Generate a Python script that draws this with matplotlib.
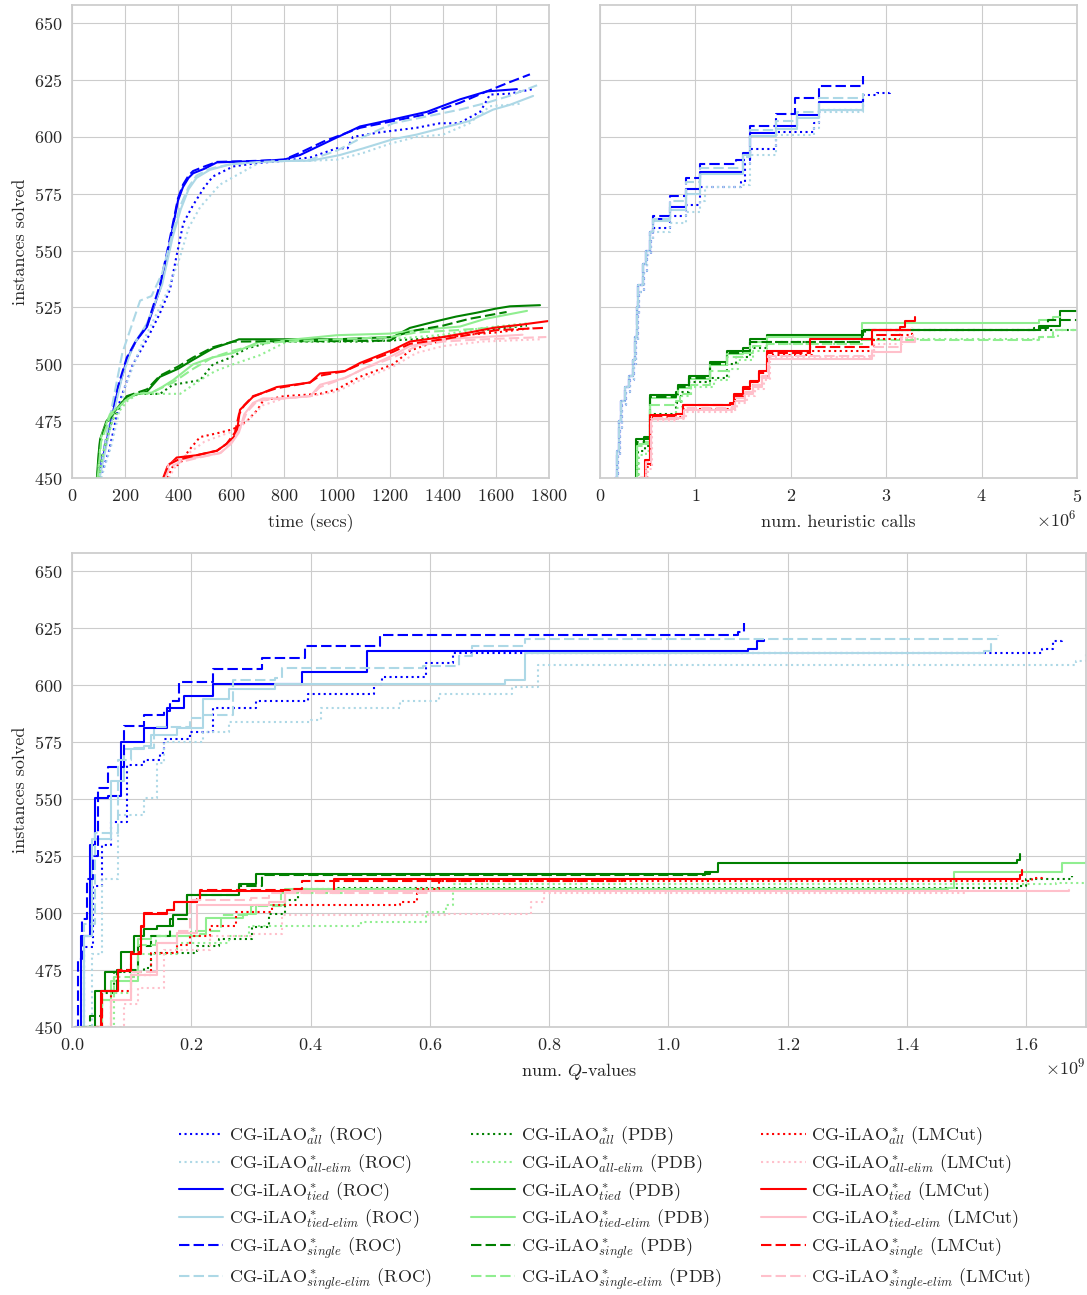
import matplotlib
matplotlib.use('Agg')
import matplotlib.pyplot as plt
import seaborn as sns

sns.set_style('whitegrid')
plt.rcParams['font.family'] = ['cmr10']
plt.rcParams['mathtext.fontset'] = 'cm'
plt.rcParams['axes.formatter.use_mathtext'] = True

HEURISTICS = ['ROC', 'PDB', 'LMCut']
VARIANTS = ['all', 'all-elim', 'tied', 'tied-elim', 'single', 'single-elim']
Y_TICKS = [450, 475, 500, 525, 550, 575, 600, 625, 650]

# ---- time (secs) ----
time_roc_all_x = [106, 140, 181, 230, 283, 330, 370, 395, 420, 457, 500, 532, 608, 700, 800, 900, 1000, 1040, 1060, 1162, 1300, 1389, 1460, 1540, 1560, 1577, 1650, 1740]
time_roc_all_y = [450, 462, 484, 500, 511, 522, 533, 548, 562, 570, 578, 582.6, 587, 588.5, 589.5, 591, 595, 595, 600, 602, 604, 606, 606, 611, 615, 618.6, 619, 621]
time_roc_all_elim_x = [110, 150, 200, 260, 310, 360, 407, 440, 483, 558, 619, 709, 800, 900, 1000, 1100, 1200, 1300, 1400, 1500, 1577, 1640, 1702]
time_roc_all_elim_y = [450, 465, 490, 508, 520, 532, 547, 560, 569, 579, 583, 588.8, 589.4, 589.5, 590, 593, 597, 600, 601, 606, 613.5, 614, 614.7]
time_roc_tied_x = [100, 130, 170, 207, 240, 283, 332, 360, 381, 400, 419, 440, 457, 500, 547, 709, 800, 860, 950, 1087, 1212, 1339, 1464, 1565, 1679]
time_roc_tied_y = [450, 466, 487, 502, 510, 516.5, 533, 548, 560.6, 572, 578, 582, 584, 586, 588.8, 589.4, 590, 592, 597, 604.6, 607.7, 611, 616.5, 620, 621]
time_roc_tied_elim_x = [104, 140, 190, 230, 283, 340, 380, 410, 440, 470, 520, 600, 709, 800, 900, 1010, 1100, 1212, 1300, 1400, 1500, 1589, 1650, 1740]
time_roc_tied_elim_y = [450, 470, 495, 508, 518, 535, 556, 568, 577, 582, 585.5, 588, 589, 589.4, 589.5, 592, 595, 599, 601, 604, 607, 612, 614, 618]
time_roc_single_x = [98, 130, 170, 207, 240, 283, 332, 360, 381, 400, 419, 440, 457, 500, 547, 709, 800, 860, 950, 1087, 1212, 1339, 1464, 1565, 1650, 1728]
time_roc_single_y = [450, 468, 489, 503, 510, 517, 535, 550, 562, 573, 579, 583, 585, 587, 589, 589.5, 590, 593, 598, 604, 607, 610, 615, 620, 624, 627.5]
time_roc_single_elim_x = [102, 140, 190, 257, 300, 340, 380, 410, 440, 470, 520, 600, 709, 800, 900, 1000, 1100, 1212, 1339, 1464, 1565, 1650, 1755]
time_roc_single_elim_y = [450, 475, 505, 528, 530, 540, 558, 570, 578, 583, 586, 588, 589, 589.4, 590, 594, 600, 606, 609, 612, 615, 618, 622.7]

time_pdb_all_x = [100, 115, 150, 200, 250, 332, 381, 483, 532, 600, 660, 760, 900, 1100, 1300, 1400, 1550, 1717]
time_pdb_all_y = [450, 460, 475, 485, 487, 487, 491, 493, 500, 503, 507, 510, 510, 510, 511, 512, 515, 517]
time_pdb_all_elim_x = [102, 120, 155, 210, 250, 300, 408, 483, 540, 608, 709, 811, 1000, 1200, 1400, 1550, 1717]
time_pdb_all_elim_y = [450, 462, 476, 484, 487, 487, 487, 493, 497, 500, 504, 510, 510, 511, 513, 516, 518]
time_pdb_tied_x = [94, 100, 106, 130, 155, 207, 283, 332, 400, 457, 532, 608, 630, 800, 1000, 1212, 1275, 1377, 1450, 1528, 1600, 1653, 1766]
time_pdb_tied_y = [450, 460, 467, 475, 478.6, 485.7, 488, 494.5, 498, 502, 507, 510, 511, 511, 511, 512, 516, 519, 521, 522.7, 524.5, 525.5, 526]
time_pdb_tied_elim_x = [96, 110, 143, 200, 241, 300, 340, 381, 457, 530, 608, 709, 800, 1000, 1200, 1300, 1464, 1560, 1717]
time_pdb_tied_elim_y = [450, 468, 478, 484, 487, 487.5, 490, 493, 500, 503, 505, 510, 510.5, 512.8, 513.5, 515, 516.6, 520, 523.5]
time_pdb_single_x = [96, 106, 130, 155, 207, 283, 332, 400, 457, 532, 608, 640, 800, 1000, 1200, 1237, 1300, 1400, 1500, 1640]
time_pdb_single_y = [450, 466, 474, 478, 486, 489, 495, 499, 503, 507.5, 510, 510, 510.2, 510.2, 510.4, 513, 515, 517, 520, 523]
time_pdb_single_elim_x = [97, 110, 143, 200, 241, 300, 381, 457, 530, 608, 709, 800, 1000, 1200, 1300, 1450, 1690]
time_pdb_single_elim_y = [450, 466, 477, 484, 487, 487.5, 492, 498, 503, 506, 509, 510, 511, 512, 514, 515, 517]

time_lmcut_all_x = [360, 380, 406, 440, 483, 560, 608, 660, 700, 721, 800, 936, 1000, 1087, 1212, 1275, 1339, 1464, 1600, 1740]
time_lmcut_all_y = [450, 455, 456, 462, 468, 470, 471.5, 475, 480, 484, 486, 487, 489, 494.5, 500, 506, 508.6, 512.7, 514, 516]
time_lmcut_all_elim_x = [365, 390, 430, 500, 570, 620, 670, 720, 800, 900, 1000, 1087, 1212, 1300, 1400, 1550, 1770]
time_lmcut_all_elim_y = [450, 455, 460, 466, 469, 471, 476, 482, 485, 486, 488, 493, 499, 505, 508, 510, 511]
time_lmcut_tied_x = [344, 360, 395, 470, 547, 583, 610, 623, 634, 683, 773, 898, 936, 1030, 1087, 1212, 1275, 1400, 1500, 1589, 1700, 1796]
time_lmcut_tied_y = [450, 455, 459, 460, 462, 465, 468, 471, 480, 485.7, 490, 492, 496, 497, 500.6, 506.4, 510, 512, 514, 516, 517.5, 519]
time_lmcut_tied_elim_x = [350, 365, 400, 470, 560, 600, 630, 650, 683, 720, 800, 900, 936, 1030, 1100, 1212, 1275, 1400, 1550, 1700]
time_lmcut_tied_elim_y = [450, 456, 458, 459, 461, 465, 470, 478, 483, 485, 485, 486, 491, 494, 498, 504, 508, 511, 512, 513]
time_lmcut_single_x = [348, 365, 400, 470, 547, 583, 615, 630, 650, 683, 773, 898, 936, 1030, 1087, 1212, 1275, 1400, 1500, 1600, 1778]
time_lmcut_single_y = [450, 456, 458, 460, 462, 465, 470, 478, 482, 486, 489.5, 492, 495, 497, 500, 505.5, 509, 511, 513, 515, 516]
time_lmcut_single_elim_x = [352, 370, 410, 480, 560, 605, 635, 660, 700, 800, 900, 936, 1030, 1100, 1212, 1300, 1400, 1550, 1790]
time_lmcut_single_elim_y = [450, 455, 457, 459, 461, 466, 472, 479, 484, 485, 486, 490, 494, 498, 503, 508, 510, 511, 512]

# ---- heuristic calls (millions) ----
calls_roc_all_x = [0.165, 0.19, 0.21, 0.23, 0.27, 0.31, 0.36, 0.38, 0.395, 0.41, 0.46, 0.49, 0.53, 0.56, 0.73, 0.90, 1.05, 1.48, 1.52, 1.57, 1.85, 2.24, 2.30, 2.76, 2.90, 3.04]
calls_roc_all_y = [450, 460, 472, 482, 488, 493, 500, 510, 522, 532, 541, 548, 555, 560, 565, 570, 578, 580, 588, 594.6, 602, 606, 612, 618.6, 619.5, 620.5]
calls_roc_all_elim_x = [0.165, 0.19, 0.21, 0.23, 0.27, 0.31, 0.36, 0.38, 0.395, 0.41, 0.46, 0.49, 0.53, 0.56, 0.73, 0.90, 1.05, 1.10, 1.48, 1.57, 1.85, 2.24, 2.30, 2.76]
calls_roc_all_elim_y = [450, 460, 472, 482, 488, 493, 500, 510, 522, 532, 541, 548, 555, 558, 562, 567, 572, 578, 579, 592, 601, 604, 611, 613.9]
calls_roc_tied_x = [0.157, 0.18, 0.20, 0.22, 0.26, 0.30, 0.35, 0.37, 0.385, 0.40, 0.45, 0.48, 0.52, 0.56, 0.73, 0.90, 1.05, 1.50, 1.57, 1.85, 2.06, 2.30, 2.76]
calls_roc_tied_y = [450, 462, 475, 484, 490, 495, 502, 512, 525, 535, 544, 550, 558, 564, 569, 577, 584.5, 593, 601.5, 605, 609.5, 615.5, 616.5]
calls_roc_tied_elim_x = [0.157, 0.18, 0.20, 0.22, 0.26, 0.30, 0.35, 0.37, 0.385, 0.40, 0.45, 0.48, 0.52, 0.56, 0.73, 0.90, 1.05, 1.50, 1.57, 1.85, 2.06, 2.30, 2.76]
calls_roc_tied_elim_y = [450, 462, 475, 484, 490, 495, 502, 512, 525, 535, 544, 550, 558, 563, 568, 575, 583.5, 592, 600.5, 603.5, 608.5, 612, 615]
calls_roc_single_x = [0.157, 0.18, 0.20, 0.22, 0.26, 0.30, 0.35, 0.37, 0.385, 0.40, 0.45, 0.48, 0.52, 0.56, 0.73, 0.90, 1.05, 1.43, 1.57, 1.85, 2.04, 2.30, 2.76]
calls_roc_single_y = [450, 462, 475, 484, 490, 495, 502, 512, 525, 535, 544, 550, 558, 565, 574, 582, 588, 590, 605, 610, 617, 622.4, 626.6]
calls_roc_single_elim_x = [0.157, 0.18, 0.20, 0.22, 0.26, 0.30, 0.35, 0.37, 0.385, 0.40, 0.45, 0.48, 0.52, 0.56, 0.73, 0.90, 1.05, 1.50, 1.57, 1.85, 2.06, 2.30, 2.76]
calls_roc_single_elim_y = [450, 462, 475, 484, 490, 495, 502, 512, 525, 535, 544, 550, 558, 564, 572, 580, 586.5, 591, 603, 607, 611, 617, 619.5]

calls_pdb_all_x = [0.37, 0.40, 0.47, 0.52, 0.80, 0.85, 0.93, 1.15, 1.33, 1.43, 1.57, 1.75, 2.75, 2.78, 5.0]
calls_pdb_all_y = [450, 462, 464, 478, 483, 488, 492, 494, 500, 503, 507, 510, 513, 515, 515]
calls_pdb_all_elim_x = [0.38, 0.41, 0.48, 0.53, 0.80, 0.86, 0.95, 1.20, 1.35, 1.45, 1.60, 1.75, 2.75, 4.60, 4.80]
calls_pdb_all_elim_y = [450, 460, 462, 476, 481, 486, 490, 493, 498, 502, 506, 509, 511, 512, 514]
calls_pdb_tied_x = [0.367, 0.38, 0.46, 0.52, 0.80, 0.82, 0.93, 1.15, 1.33, 1.50, 1.57, 1.75, 2.76, 4.60, 4.82, 5.0]
calls_pdb_tied_y = [450, 467, 468, 486.6, 488, 491, 495, 501, 506, 507, 511, 513, 515, 517, 523.5, 523.5]
calls_pdb_tied_elim_x = [0.37, 0.39, 0.46, 0.52, 0.80, 0.82, 0.93, 1.15, 1.33, 1.50, 1.57, 1.75, 2.75, 4.60, 4.75, 4.82]
calls_pdb_tied_elim_y = [450, 465, 466, 485, 486.5, 489.5, 493.5, 499.5, 504.5, 506, 510, 512, 518, 519.5, 521, 521]
calls_pdb_single_x = [0.37, 0.385, 0.46, 0.52, 0.80, 0.82, 0.93, 1.15, 1.33, 1.50, 1.57, 2.75, 4.55, 4.70, 5.0]
calls_pdb_single_y = [450, 466, 467, 485.5, 487, 490, 494, 500, 505, 506, 510, 515, 516, 519.5, 519.5]
calls_pdb_single_elim_x = [0.37, 0.39, 0.46, 0.52, 0.80, 0.84, 0.95, 1.15, 1.33, 1.50, 1.60, 1.75, 2.75, 4.60, 4.75, 5.0]
calls_pdb_single_elim_y = [450, 464, 465, 482, 484, 487, 491, 497, 503, 505, 508, 509, 510.5, 512, 515, 515]

calls_lmcut_all_x = [0.43, 0.49, 0.53, 0.80, 0.88, 1.38, 1.42, 1.52, 1.60, 1.70, 1.77, 2.22, 2.87, 3.16, 3.27]
calls_lmcut_all_y = [450, 455, 476, 477, 480.5, 481, 485, 488, 491, 495, 504, 506, 511, 513, 514]
calls_lmcut_all_elim_x = [0.44, 0.50, 0.54, 0.80, 0.90, 1.40, 1.44, 1.54, 1.62, 1.72, 1.78, 2.87, 3.17, 3.28]
calls_lmcut_all_elim_y = [450, 454, 475, 476, 479, 480, 483, 486, 489, 493, 503, 509, 511.5, 513]
calls_lmcut_tied_x = [0.42, 0.47, 0.52, 0.80, 0.87, 1.36, 1.40, 1.50, 1.57, 1.67, 1.75, 2.20, 2.85, 3.14, 3.20, 3.30]
calls_lmcut_tied_y = [450, 458, 477.6, 478, 482, 483, 487, 490, 492.6, 497, 506, 511, 515, 516.6, 519, 520.8]
calls_lmcut_tied_elim_x = [0.43, 0.48, 0.53, 0.80, 0.88, 1.38, 1.42, 1.52, 1.60, 1.70, 1.77, 2.85, 3.16, 3.30]
calls_lmcut_tied_elim_y = [450, 456, 476, 476.5, 480, 480.5, 484, 487, 490, 494, 502.5, 505.5, 510, 511.5]
calls_lmcut_single_x = [0.42, 0.48, 0.52, 0.80, 0.87, 1.36, 1.40, 1.50, 1.57, 1.67, 1.75, 2.20, 2.85, 3.14, 3.27]
calls_lmcut_single_y = [450, 456, 477, 478, 482, 482.5, 486, 489, 492, 496, 505, 507.5, 513, 515, 516.6]
calls_lmcut_single_elim_x = [0.42, 0.48, 0.53, 0.80, 0.88, 1.38, 1.42, 1.52, 1.60, 1.70, 1.76, 2.85, 3.15, 3.28]
calls_lmcut_single_elim_y = [450, 457, 476.5, 477, 481, 481.5, 485, 488, 491, 495, 503.5, 507.5, 512, 513.5]

# ---- Q-values (billions) ----
q_roc_all_x = [0.008, 0.020, 0.035, 0.050, 0.065, 0.093, 0.120, 0.148, 0.155, 0.198, 0.236, 0.308, 0.396, 0.506, 0.520, 0.594, 0.638, 1.627, 1.644, 1.660]
q_roc_all_y = [450, 485, 512, 530, 540, 565, 567, 570.3, 576.4, 579.4, 590, 593, 596, 600.7, 603.7, 609.8, 614.3, 615.8, 619.6, 620.4]
q_roc_all_elim_x = [0.017, 0.033, 0.050, 0.077, 0.121, 0.143, 0.154, 0.220, 0.264, 0.401, 0.418, 0.550, 0.616, 0.737, 0.781, 1.683, 1.700]
q_roc_all_elim_y = [450, 482, 515, 543, 550.6, 565.8, 575, 579.4, 584, 584.7, 590, 593, 596, 599.2, 609, 610.5, 613.6]
q_roc_tied_x = [0.005, 0.015, 0.030, 0.038, 0.060, 0.082, 0.121, 0.160, 0.187, 0.236, 0.385, 0.495, 1.133, 1.149, 1.160]
q_roc_tied_y = [450, 490, 530, 550.6, 551.4, 575, 581, 590, 595.4, 600.7, 606, 615, 616, 619.6, 620]
q_roc_tied_elim_x = [0.008, 0.020, 0.033, 0.066, 0.088, 0.121, 0.132, 0.176, 0.220, 0.264, 0.341, 0.726, 0.759, 1.529, 1.540]
q_roc_tied_elim_y = [450, 490, 532.4, 558, 571.8, 573.4, 578, 581, 594, 598.4, 600.7, 602.2, 614.3, 615, 618]
q_roc_single_x = [0.005, 0.010, 0.016, 0.025, 0.035, 0.044, 0.060, 0.088, 0.121, 0.154, 0.165, 0.180, 0.236, 0.319, 0.390, 0.517, 1.117, 1.127]
q_roc_single_y = [450, 480, 497.5, 515, 525, 555, 564, 582, 587, 588.5, 593, 601.4, 607, 612, 617.4, 622.2, 623.4, 627.2]
q_roc_single_elim_x = [0.008, 0.020, 0.038, 0.077, 0.099, 0.137, 0.198, 0.220, 0.270, 0.341, 0.352, 0.589, 0.649, 0.671, 0.759, 1.553]
q_roc_single_elim_y = [450, 495, 535, 567, 572.6, 581.7, 585.5, 587, 602.2, 603, 607.5, 608.3, 612.8, 617.4, 620.4, 622.2]

q_pdb_all_x = [0.030, 0.050, 0.071, 0.121, 0.132, 0.209, 0.247, 0.302, 0.330, 0.357, 0.379, 0.440, 1.589, 1.600, 1.677]
q_pdb_all_y = [450, 465, 474, 476, 482.3, 485.5, 488.4, 493.7, 499.8, 505.8, 510.4, 511.2, 511.9, 515, 516.2]
q_pdb_all_elim_x = [0.055, 0.070, 0.099, 0.176, 0.264, 0.297, 0.484, 0.594, 0.627, 0.638, 1.622, 1.650, 1.700]
q_pdb_all_elim_y = [450, 465, 482, 486.9, 490, 494.5, 496, 500.5, 503.6, 512.7, 512.7, 513.4, 513.7]
q_pdb_tied_x = [0.022, 0.038, 0.055, 0.082, 0.104, 0.120, 0.143, 0.170, 0.192, 0.280, 0.308, 1.061, 1.083, 1.584, 1.589]
q_pdb_tied_y = [450, 465.6, 474, 483, 490, 493, 494.5, 499, 508, 512.7, 517.2, 518, 522, 523.3, 526]
q_pdb_tied_elim_x = [0.027, 0.050, 0.066, 0.110, 0.132, 0.214, 0.225, 0.286, 0.308, 0.357, 1.468, 1.479, 1.660, 1.700]
q_pdb_tied_elim_y = [450, 462, 470, 488.4, 490, 491, 498, 499.8, 503.6, 510.4, 510.8, 518, 521.8, 522.5]
q_pdb_single_x = [0.015, 0.030, 0.050, 0.075, 0.110, 0.132, 0.165, 0.192, 0.280, 0.319, 1.061, 1.070]
q_pdb_single_y = [450, 455, 466, 475, 485.5, 490, 497.5, 508, 512, 516.5, 517.2, 518]
q_pdb_single_elim_x = [0.025, 0.050, 0.070, 0.110, 0.140, 0.200, 0.250, 0.300, 0.350, 0.460]
q_pdb_single_elim_y = [450, 462, 472, 486, 490, 492, 499, 503, 509, 511]

q_lmcut_all_x = [0.050, 0.066, 0.099, 0.132, 0.176, 0.198, 0.231, 0.275, 0.335, 0.550, 0.578, 0.616, 1.610, 1.627]
q_lmcut_all_y = [450, 465.6, 473, 482.3, 486, 490, 494.5, 500.5, 503.6, 505, 510.4, 514.2, 515.5, 516.5]
q_lmcut_all_elim_x = [0.070, 0.088, 0.110, 0.154, 0.231, 0.300, 0.352, 0.627, 0.770, 0.792, 1.500]
q_lmcut_all_elim_y = [450, 460, 467, 484, 490, 490.7, 499, 499.8, 505, 508.8, 509.6]
q_lmcut_tied_x = [0.038, 0.049, 0.077, 0.099, 0.115, 0.121, 0.160, 0.171, 0.209, 0.215, 0.440, 1.589, 1.593]
q_lmcut_tied_y = [450, 465.6, 474.7, 482, 494.5, 499.8, 501.3, 505, 505.8, 509.6, 515, 516.5, 519]
q_lmcut_tied_elim_x = [0.045, 0.066, 0.099, 0.143, 0.176, 0.209, 0.330, 0.357, 1.672]
q_lmcut_tied_elim_y = [450, 462, 473, 486.9, 491.4, 503.6, 505, 509.6, 510]
q_lmcut_single_x = [0.040, 0.050, 0.077, 0.099, 0.115, 0.121, 0.160, 0.171, 0.209, 0.215, 0.365, 0.385, 0.924]
q_lmcut_single_y = [450, 466, 475, 483, 494, 500, 501.5, 505, 506, 510, 510.4, 514.2, 515]
q_lmcut_single_elim_x = [0.045, 0.066, 0.099, 0.143, 0.176, 0.198, 0.300, 0.330, 0.600]
q_lmcut_single_elim_y = [450, 462, 474, 487, 492, 505.8, 506.6, 509, 511]

# lookup tables built from the lists above
g = globals()
def collect(prefix):
    out = {}
    for h in HEURISTICS:
        for v in VARIANTS:
            key = prefix + '_' + h.lower() + '_' + v.replace('-', '_')
            out[(h, v)] = (g[key + '_x'], g[key + '_y'])
    return out

time_series = collect('time')
calls_series = collect('calls')
q_series = collect('q')

COLORS = {'ROC': ('blue', 'lightblue'), 'PDB': ('green', 'lightgreen'), 'LMCut': ('red', 'pink')}
STYLES = {'all': (':', 0), 'all-elim': (':', 1), 'tied': ('-', 0), 'tied-elim': ('-', 1),
          'single': ('--', 0), 'single-elim': ('--', 1)}


def make_label(h, v):
    sub = r'\mathit{' + v.replace('-', r'}\text{-}\mathit{') + '}'
    return r'CG-iLAO$^*_{' + sub + '}$ (' + h + ')'


def draw(ax, series, scale, steps):
    handles = []
    for h in HEURISTICS:
        for v in VARIANTS:
            ls, ci = STYLES[v]
            xs, ys = series[(h, v)]
            kw = dict(color=COLORS[h][ci], lw=1.5, label=make_label(h, v))
            if ls == '--':
                kw['dashes'] = (5, 2)
            else:
                kw['linestyle'] = ls
            if steps:
                kw['drawstyle'] = 'steps-post'
            line, = ax.plot([x * scale for x in xs], ys, **kw)
            handles.append(line)
    ax.set_ylim(450, 658)
    ax.set_yticks(Y_TICKS)
    ax.tick_params(labelsize=13)
    for s in ax.spines.values():
        s.set_color('0.8')
        s.set_linewidth(1.25)
    return handles


fig = plt.figure(figsize=(10.87, 12.95), dpi=100)

ax1 = fig.add_axes([72 / 1087, 1 - 478 / 1295, 477 / 1087, 473 / 1295])
handles = draw(ax1, time_series, 1, False)
ax1.set_xlim(0, 1800)
ax1.set_xticks(range(0, 1801, 200))
ax1.set_xlabel('time (secs)', fontsize=13, labelpad=7)
ax1.set_ylabel('instances solved', fontsize=13)

ax2 = fig.add_axes([600 / 1087, 1 - 478 / 1295, 477 / 1087, 473 / 1295])
draw(ax2, calls_series, 1e6, True)
ax2.set_xlim(0, 5e6)
ax2.set_yticklabels([])
ax2.set_xlabel('num. heuristic calls', fontsize=13, labelpad=7)
ax2.xaxis.get_offset_text().set_fontsize(13)

ax3 = fig.add_axes([72 / 1087, 1 - 1027 / 1295, 1014 / 1087, 474 / 1295])
draw(ax3, q_series, 1e9, True)
ax3.set_xlim(0, 1.7e9)
ax3.set_xlabel('num. $Q$-values', fontsize=13, labelpad=6)
ax3.set_ylabel('instances solved', fontsize=13)
ax3.xaxis.get_offset_text().set_fontsize(13)

fig.legend(handles=handles, loc='upper left', bbox_to_anchor=(163 / 1087, 1 - 1108 / 1295),
           ncol=3, frameon=False, fontsize=13, handlelength=2.45, handletextpad=0.3,
           columnspacing=2.2, labelspacing=0.28)

fig.savefig('out.png', dpi=100)
